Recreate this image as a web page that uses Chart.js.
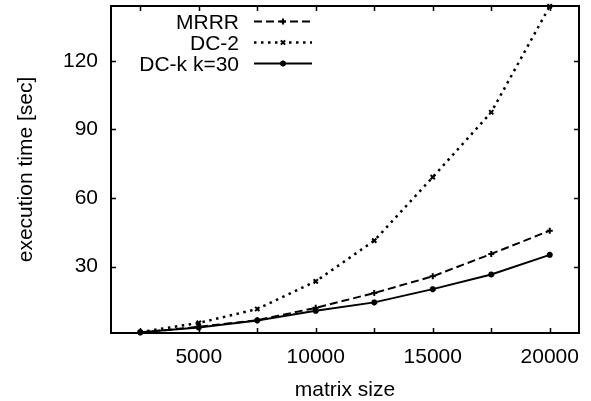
<!DOCTYPE html>
<html>
<head>
<meta charset="utf-8">
<script src="https://cdn.jsdelivr.net/npm/chart.js@4.4.1/dist/chart.umd.min.js"></script>
<style>
  html, body { margin: 0; padding: 0; background: #fff; }
  #wrap { width: 591px; height: 401px; }
</style>
</head>
<body>
<div id="wrap"><canvas id="myChart" width="591" height="401"></canvas></div>
<script>
// values
const sizes = [2500, 5000, 7500, 10000, 12500, 15000, 17500, 20000];
const mrrr = [1.1, 3.6, 6.5, 11.9, 18.4, 25.7, 35.5, 45.7];
const dc2 = [1.3, 5.3, 11.4, 23.5, 41.3, 69.1, 97.5, 143.9];
const dck = [1.2, 3.3, 6.4, 10.6, 14.3, 20.1, 26.5, 35.1];

const xTicks = [2500, 5000, 7500, 10000, 12500, 15000, 17500, 20000];
const xLabels = [5000, 10000, 15000, 20000];
const yTicks = [30, 60, 90, 120];

const FONT = { family: '"Liberation Sans", Arial, sans-serif', size: 21 };

function toPoints(values) {
  return sizes.map((x, i) => ({ x: x, y: values[i] }));
}

function series(label, values, dash, style, width) {
  return {
    label: label,
    data: toPoints(values),
    borderColor: '#000',
    backgroundColor: '#000',
    borderWidth: width,
    borderDash: dash,
    pointStyle: style,
    pointRadius: 3,
    pointBorderWidth: 2,
    pointBorderColor: '#000',
    tension: 0,
    clip: false
  };
}

// drop the extra room Chart.js keeps for half labels
function noPad(scale) {
  scale.paddingTop = 0;
  scale.paddingBottom = 0;
  scale.paddingLeft = 0;
  scale.paddingRight = 0;
}

// frame with inward tick marks on all four sides (gnuplot style)
const framePlugin = {
  id: 'frame',
  beforeDatasetsDraw(chart) {
    const { ctx, chartArea: a, scales } = chart;
    ctx.save();
    ctx.strokeStyle = '#000';
    ctx.lineWidth = 2;
    ctx.strokeRect(a.left, a.top, a.right - a.left, a.bottom - a.top);
    ctx.lineWidth = 1.5;
    ctx.beginPath();
    for (const v of xTicks) {
      const px = Math.round(scales.x.getPixelForValue(v)) + 0.5;
      ctx.moveTo(px, a.bottom); ctx.lineTo(px, a.bottom - 5);
      ctx.moveTo(px, a.top); ctx.lineTo(px, a.top + 5);
    }
    for (const v of yTicks) {
      const py = Math.round(scales.y.getPixelForValue(v)) + 0.5;
      ctx.moveTo(a.left, py); ctx.lineTo(a.left + 5, py);
      ctx.moveTo(a.right, py); ctx.lineTo(a.right - 5, py);
    }
    ctx.stroke();
    ctx.restore();
  }
};

// key: label right aligned, line sample with marker to its right
const keyPlugin = {
  id: 'key',
  afterDatasetsDraw(chart) {
    const { ctx } = chart;
    const textRight = 239, x0 = 254, x1 = 312, top = 20.7, step = 21.3;
    ctx.save();
    ctx.font = FONT.size + 'px ' + FONT.family;
    ctx.fillStyle = '#000';
    ctx.textAlign = 'right';
    ctx.textBaseline = 'alphabetic';
    chart.data.datasets.forEach((ds, i) => {
      const y = Math.round(top + i * step) + 0.5;
      ctx.fillText(ds.label, textRight, y + 7.5);
      ctx.strokeStyle = '#000';
      ctx.lineWidth = ds.borderWidth;
      ctx.setLineDash(ds.borderDash || []);
      ctx.beginPath();
      ctx.moveTo(x0, y); ctx.lineTo(x1, y);
      ctx.stroke();
      ctx.setLineDash([]);
      ctx.lineWidth = ds.pointBorderWidth;
      Chart.helpers.drawPoint(ctx, { pointStyle: ds.pointStyle, radius: ds.pointRadius, borderWidth: ds.pointBorderWidth }, (x0 + x1) / 2, y);
    });
    ctx.restore();
  }
};

const ctx = document.getElementById('myChart');

new Chart(ctx, {
  type: 'line',
  data: {
    datasets: [
      series('MRRR', mrrr, [8, 4], 'cross', 2),
      series('DC-2', dc2, [2.5, 4.5], 'crossRot', 2.5),
      series('DC-k k=30', dck, [], 'star', 2)
    ]
  },
  options: {
    responsive: false,
    animation: false,
    layout: { padding: { top: 4, right: 12, left: 0, bottom: 0 } },
    plugins: {
      legend: { display: false },
      tooltip: { enabled: false }
    },
    scales: {
      x: {
        type: 'linear',
        min: 1250,
        max: 21250,
        afterBuildTicks(scale) {
          scale.ticks = xTicks.map(v => ({ value: v }));
        },
        afterFit(scale) { scale.height = 68; noPad(scale); },
        ticks: {
          autoSkip: false,
          maxRotation: 0,
          padding: 12,
          color: '#000',
          font: FONT,
          callback: v => (xLabels.includes(v) ? String(v) : '')
        },
        grid: { display: false, drawTicks: false },
        border: { display: false },
        title: {
          display: true,
          text: 'matrix size',
          color: '#000',
          font: FONT,
          padding: { top: 0, bottom: -2 }
        }
      },
      y: {
        type: 'linear',
        min: 0.9,
        max: 144,
        afterBuildTicks(scale) {
          scale.ticks = yTicks.map(v => ({ value: v }));
        },
        afterFit(scale) { scale.width = 111; noPad(scale); },
        ticks: {
          padding: 13,
          color: '#000',
          font: FONT
        },
        grid: { display: false, drawTicks: false },
        border: { display: false },
        title: {
          display: true,
          text: 'execution time [sec]',
          color: '#000',
          font: FONT,
          padding: { top: 14, bottom: 0 }
        }
      }
    }
  },
  plugins: [framePlugin, keyPlugin]
});
</script>
</body>
</html>
